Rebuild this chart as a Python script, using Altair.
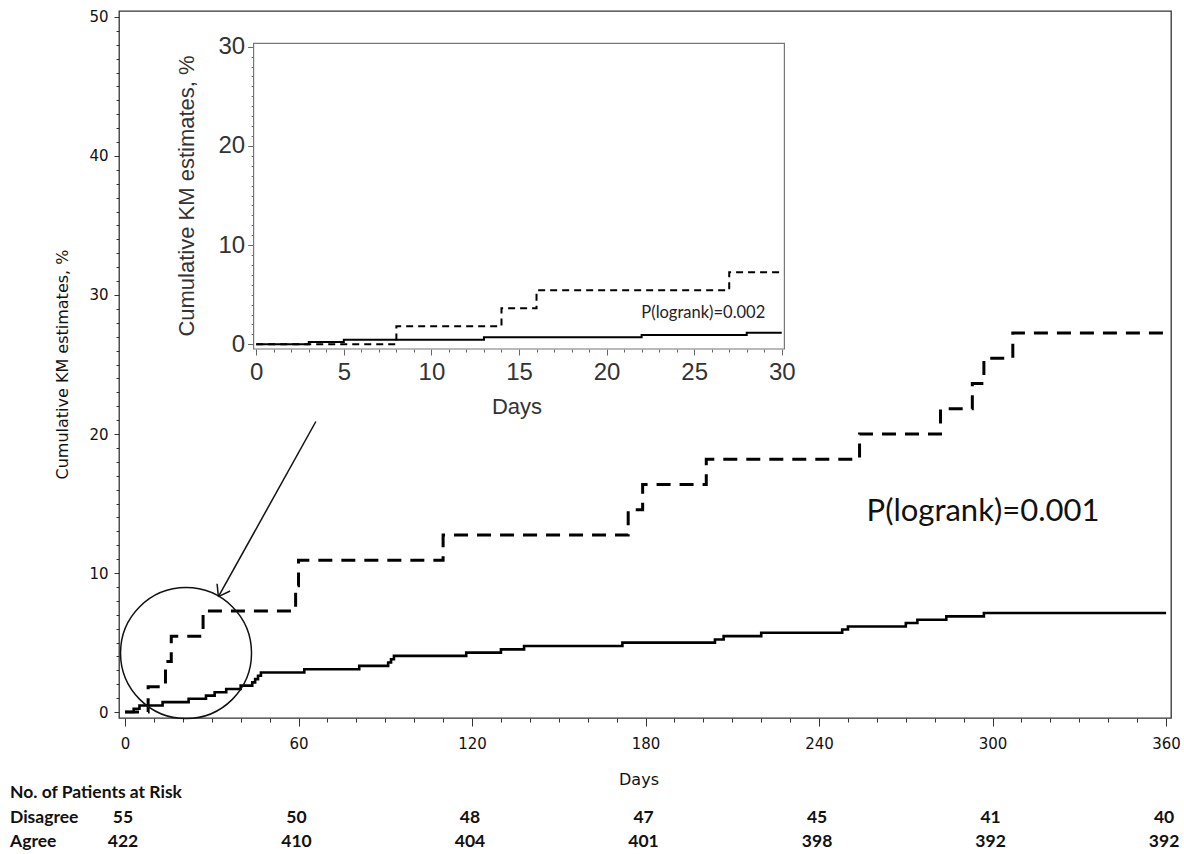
import math
import altair as alt
import pandas as pd

# ---------------- data ----------------
DIS_DAYS = [0, 8, 14, 16, 27, 59, 60, 110, 174, 179, 201, 254, 282, 293, 297, 307, 360]
DIS_PCT = [0, 1.82, 3.64, 5.45, 7.27, 9.09, 10.91, 12.73, 14.55, 16.36, 18.18, 20.0,
           21.82, 23.64, 25.45, 27.27, 27.27]

AGR_DAYS = [0, 3, 5, 13, 22, 28, 31, 35, 40, 44, 45, 46, 47, 62, 81, 91, 92, 93, 118,
            130, 138, 172, 204, 207, 220, 248, 250, 270, 274, 284, 297, 360]
AGR_PCT = [0, 0.24, 0.47, 0.71, 0.95, 1.18, 1.42, 1.66, 1.90, 2.13, 2.37, 2.61, 2.84,
           3.08, 3.32, 3.56, 3.80, 4.04, 4.27, 4.51, 4.75, 4.99, 5.22, 5.46, 5.70, 5.94,
           6.15, 6.40, 6.64, 6.88, 7.12, 7.12]

IN_DIS_DAYS = [0, 8, 14, 16, 27, 30]
IN_DIS_PCT = [0, 1.82, 3.64, 5.45, 7.27, 7.27]
IN_AGR_DAYS = [0, 3, 5, 13, 22, 28, 30]
IN_AGR_PCT = [0, 0.24, 0.47, 0.71, 0.95, 1.18, 1.18]

RISK_DAYS = [0, 60, 120, 180, 240, 300, 360]
RISK_DISAGREE = [55, 50, 48, 47, 45, 41, 40]
RISK_AGREE = [422, 410, 404, 401, 398, 392, 392]

MAIN_X_TICKS = list(range(0, 361, 10))
MAIN_Y_TICKS = list(range(0, 51))
INSET_X_TICKS = list(range(0, 31))
INSET_Y_TICKS = list(range(0, 31))

# ---------------- layout ----------------
W, H = 1052, 707
X_DOM = [-2.075, 361.7]
Y_DOM = [-0.43, 50.43]
IX_DOM = [-0.15, 30.15]
IX_RANGE = [134.6, 665.4]
IY_DOM = [-0.47, 30.34]
IY_RANGE = [338.0, 32.3]

CIRCLE = {"day": [21.1], "pct": [4.24]}
ARROW_FROM = (66.0, 20.9)
ARROW_TO = (32.3, 8.3)

PX_PER_DAY = W / (X_DOM[1] - X_DOM[0])
PX_PER_PCT = H / (Y_DOM[1] - Y_DOM[0])

# arrow shaft + open head
dx = (ARROW_FROM[0] - ARROW_TO[0]) * PX_PER_DAY
dy = -(ARROW_FROM[1] - ARROW_TO[1]) * PX_PER_PCT
L = math.hypot(dx, dy)
ux, uy = dx / L, dy / L
arrow_rows = [dict(day=ARROW_FROM[0], pct=ARROW_FROM[1], day_end=ARROW_TO[0], pct_end=ARROW_TO[1])]
for a in (math.radians(35), math.radians(-35)):
    rx = ux * math.cos(a) - uy * math.sin(a)
    ry = ux * math.sin(a) + uy * math.cos(a)
    arrow_rows.append(dict(day=ARROW_TO[0], pct=ARROW_TO[1],
                           day_end=ARROW_TO[0] + rx * 13 / PX_PER_DAY,
                           pct_end=ARROW_TO[1] - ry * 13 / PX_PER_PCT))
arrow_df = pd.DataFrame(arrow_rows)

# ---------------- main panel ----------------
xs = alt.Scale(domain=X_DOM, nice=False, zero=False)
ys = alt.Scale(domain=Y_DOM, nice=False, zero=False)

x_axis = alt.Axis(values=MAIN_X_TICKS, labelExpr="datum.value % 60 === 0 ? datum.label : ''",
                  tickSize={"condition": {"test": "datum.value % 60 === 0", "value": 8}, "value": 4},
                  domain=False, grid=False, title=None, labelFont="DejaVu Sans", labelFontSize=15,
                  labelColor="#111", tickColor="#333", labelPadding=10, labelOverlap=False,
                  labelFlush=False, orient="bottom")
y_axis = alt.Axis(values=MAIN_Y_TICKS, labelExpr="datum.value % 10 === 0 ? datum.label : ''",
                  tickSize={"condition": {"test": "datum.value % 10 === 0", "value": 5}, "value": 3},
                  domain=False, grid=False, title=None, labelFont="DejaVu Sans", labelFontSize=15,
                  labelColor="#111", tickColor="#333", labelPadding=6, labelOverlap=False,
                  labelFlush=False, orient="left")

X = alt.X("day:Q", scale=xs, axis=x_axis)
Y = alt.Y("pct:Q", scale=ys, axis=y_axis)

dis_df = pd.DataFrame({"day": DIS_DAYS, "pct": DIS_PCT})
agr_df = pd.DataFrame({"day": AGR_DAYS, "pct": AGR_PCT})

dis_line = alt.Chart(dis_df).mark_line(interpolate="step-after", color="black", strokeWidth=3,
                                       strokeDash=[14, 9]).encode(x=X, y=Y)
agr_line = alt.Chart(agr_df).mark_line(interpolate="step-after", color="black",
                                       strokeWidth=2.6).encode(x=X, y=Y)

circle = alt.Chart(pd.DataFrame(CIRCLE)).mark_point(shape="circle", filled=False, size=17161,
                                                    color="#111", strokeWidth=1.5, opacity=1).encode(x=X, y=Y)
arrow = alt.Chart(arrow_df).mark_rule(color="#111", strokeWidth=1.5).encode(
    x=X, y=Y, x2="day_end:Q", y2="pct_end:Q")

def label(text, x, y, size, font="DejaVu Sans", angle=0, align="center", weight="normal", color="#111"):
    kw = dict(fontSize=size, font=font, align=align, baseline="middle", fontWeight=weight, color=color)
    if angle:
        kw["angle"] = angle
    return alt.Chart(pd.DataFrame({"t": [text]})).mark_text(**kw).encode(
        x=alt.value(x), y=alt.value(y), text="t:N")

main_title_y = label("Cumulative KM estimates, %", -56, 353.5, 16, angle=270)
main_title_x = label("Days", 520, 769, 16)
p_main = label("P(logrank)=0.001", 864, 500.7, 31, font="Lato")
risk_head = label("No. of Patients at Risk", -109, 782, 17.5, font="Lato", align="left", weight="bold")
risk_dis_lbl = label("Disagree", -109, 807, 17.5, font="Lato", align="left", weight="bold")
risk_agr_lbl = label("Agree", -109, 831, 17.5, font="Lato", align="left", weight="bold")

risk_df = pd.DataFrame({"day": RISK_DAYS, "dis": RISK_DISAGREE, "agr": RISK_AGREE})
risk_dis = alt.Chart(risk_df).mark_text(font="Lato", fontSize=17.5, fontWeight="bold", color="#111",
                                         dx=-2, baseline="middle").encode(
    x=X, y=alt.value(807), text="dis:Q")
risk_agr = alt.Chart(risk_df).mark_text(font="Lato", fontSize=17.5, fontWeight="bold", color="#111",
                                         dx=-2, baseline="middle").encode(
    x=X, y=alt.value(831), text="agr:Q")

main = alt.layer(dis_line, agr_line, circle, arrow, main_title_y, main_title_x, p_main,
                 risk_head, risk_dis_lbl, risk_agr_lbl, risk_dis, risk_agr)

# ---------------- inset panel ----------------
ixs = alt.Scale(domain=IX_DOM, range=IX_RANGE, nice=False, zero=False)
iys = alt.Scale(domain=IY_DOM, range=IY_RANGE, nice=False, zero=False)
ix_axis = alt.Axis(orient="bottom", offset=-369, values=INSET_X_TICKS,
                   labelExpr="datum.value % 5 === 0 ? datum.label : ''",
                   tickSize={"condition": {"test": "datum.value % 5 === 0", "value": 6}, "value": 3},
                   domain=False, grid=False, title=None, labelFont="Liberation Sans", labelFontSize=24,
                   labelColor="#333", tickColor="#666", labelPadding=5, labelOverlap=False, labelFlush=False)
iy_axis = alt.Axis(orient="left", offset=-134.6, values=INSET_Y_TICKS,
                   labelExpr="datum.value % 10 === 0 ? datum.label : ''",
                   tickSize={"condition": {"test": "datum.value % 10 === 0", "value": 6}, "value": 2.5},
                   domain=False, grid=False, title=None, labelFont="Liberation Sans", labelFontSize=24,
                   labelColor="#333", tickColor="#666", labelPadding=3, labelOverlap=False, labelFlush=False)
IX = alt.X("day:Q", scale=ixs, axis=ix_axis)
IY = alt.Y("pct:Q", scale=iys, axis=iy_axis)

frame_df = pd.DataFrame({"day": [IX_DOM[0]], "day_end": [IX_DOM[1]],
                         "pct": [IY_DOM[0]], "pct_end": [IY_DOM[1]]})
frame = alt.Chart(frame_df).mark_rect(fill="white", stroke="#777", strokeWidth=1.2).encode(
    x=IX, x2="day_end:Q", y=IY, y2="pct_end:Q")
in_dis = alt.Chart(pd.DataFrame({"day": IN_DIS_DAYS, "pct": IN_DIS_PCT})).mark_line(
    interpolate="step-after", color="black", strokeWidth=2, strokeDash=[7, 5]).encode(x=IX, y=IY)
in_agr = alt.Chart(pd.DataFrame({"day": IN_AGR_DAYS, "pct": IN_AGR_PCT})).mark_line(
    interpolate="step-after", color="black", strokeWidth=2).encode(x=IX, y=IY)

in_title_y = label("Cumulative KM estimates, %", 68, 185, 22, font="Liberation Sans", angle=270, color="#333")
in_title_x = label("Days", 398, 396, 22, font="Liberation Sans", color="#333")
p_inset = label("P(logrank)=0.002", 584.3, 301.7, 16.5, font="Lato", color="#222")

inset = alt.layer(frame, in_dis, in_agr, in_title_y, in_title_x, p_inset)

chart = alt.layer(main, inset).resolve_scale(x="independent", y="independent").properties(
    width=W, height=H,
    padding={"left": 119, "top": 11, "right": 13, "bottom": 136},
    autosize=alt.AutoSizeParams(type="none"),
    background="white",
).configure_view(stroke="#333", strokeWidth=1.3)

chart.save("out.html", embed_options={"renderer": "svg", "actions": False})
